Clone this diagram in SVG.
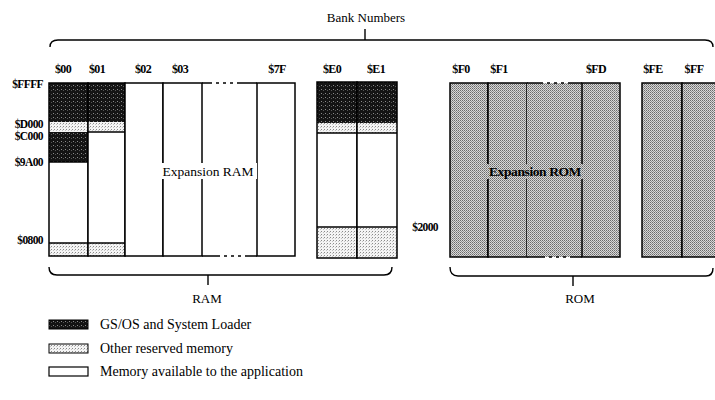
<svg xmlns="http://www.w3.org/2000/svg" width="715" height="400" viewBox="0 0 715 400">
<style>
.box{stroke:#000;stroke-width:1.5}
.ln{stroke:#000;stroke-width:1.3;fill:none}
.br{stroke:#000;stroke-width:1.4;fill:none}
.lab{font-family:"Liberation Serif",serif;font-size:12px;font-weight:bold;fill:#000;text-anchor:middle;letter-spacing:-0.6px}
.addr{font-family:"Liberation Serif",serif;font-size:11.5px;font-weight:bold;fill:#000;text-anchor:end;letter-spacing:-0.6px}
.t{font-family:"Liberation Serif",serif;font-size:13px;fill:#000}
.c{text-anchor:middle}
</style>
<defs>
<pattern id="dark" width="4" height="4" patternUnits="userSpaceOnUse"><rect width="4" height="4" fill="#141414"/><rect x="1" y="1" width="1" height="1" fill="#8a8a8a"/><rect x="3" y="2" width="1" height="1" fill="#555"/></pattern>
<pattern id="light" width="3" height="3" patternUnits="userSpaceOnUse"><rect width="3" height="3" fill="#f4f4f4"/><rect width="1" height="1" fill="#8a8a8a"/><rect x="2" y="1" width="1" height="1" fill="#c4c4c4"/></pattern>
<pattern id="rom" width="2" height="2" patternUnits="userSpaceOnUse"><rect width="2" height="2" fill="#d8d8d8"/><rect width="1" height="1" fill="#6a6a6a"/><rect x="1" y="1" width="1" height="1" fill="#8e8e8e"/></pattern>
</defs>
<rect width="715" height="400" fill="#fff"/>

<g id="connectors">
<path class="br" d="M50,47 Q50,40 58,40 H705 Q713,40 713,47"/>
<line class="br" x1="365" y1="29" x2="365" y2="40"/>
<path class="br" d="M49,267 Q49,275 57,275 H384 Q392,275 392,267"/>
<line class="br" x1="208" y1="275" x2="208" y2="285"/>
<path class="br" d="M450,267 Q450,276 458,276 H706 Q713,276 713,268"/>
<line class="br" x1="573" y1="276" x2="573" y2="286"/>
</g>

<text class="t c" x="366" y="22">Bank Numbers</text>
<text class="t c" x="207" y="303">RAM</text>
<text class="t c" x="580" y="303">ROM</text>

<g id="bank-labels">
<text class="lab" x="63" y="73">$00</text>
<text class="lab" x="97" y="73">$01</text>
<text class="lab" x="143" y="73">$02</text>
<text class="lab" x="180" y="73">$03</text>
<text class="lab" x="277" y="73">$7F</text>
<text class="lab" x="332" y="73">$E0</text>
<text class="lab" x="376" y="73">$E1</text>
<text class="lab" x="461" y="73">$F0</text>
<text class="lab" x="499" y="73">$F1</text>
<text class="lab" x="596" y="73">$FD</text>
<text class="lab" x="653" y="73">$FE</text>
<text class="lab" x="694" y="73">$FF</text>
</g>

<g id="addresses">
<text class="addr" x="43" y="88">$FFFF</text>
<text class="addr" x="43" y="127.5">$D000</text>
<text class="addr" x="43" y="140">$C000</text>
<text class="addr" x="43" y="166">$9A00</text>
<text class="addr" x="43" y="244">$0800</text>
<text class="addr" x="438" y="231">$2000</text>
</g>

<g id="bank-00">
<rect x="49" y="83" width="39" height="39" fill="url(#dark)"/>
<rect x="49" y="122" width="39" height="10" fill="url(#light)"/>
<rect x="49" y="132" width="39" height="30" fill="url(#dark)"/>
<rect x="49" y="162" width="39" height="81" fill="#fff"/>
<rect x="49" y="243" width="39" height="13" fill="url(#light)"/>
<line class="ln" x1="49" y1="162" x2="88" y2="162"/>
<line class="ln" x1="49" y1="243" x2="88" y2="243"/>
<rect class="box" x="49" y="83" width="39" height="173" fill="none"/>
</g>
<g id="bank-01">
<rect x="88" y="83" width="37" height="39" fill="url(#dark)"/>
<rect x="88" y="122" width="37" height="10" fill="url(#light)"/>
<rect x="88" y="132" width="37" height="111" fill="#fff"/>
<rect x="88" y="243" width="37" height="13" fill="url(#light)"/>
<line class="ln" x1="88" y1="132" x2="125" y2="132"/>
<line class="ln" x1="88" y1="243" x2="125" y2="243"/>
<rect class="box" x="88" y="83" width="37" height="173" fill="none"/>
</g>
<g id="bank-02"><rect class="box" x="125" y="83" width="38" height="173" fill="#fff"/></g>
<g id="bank-03"><rect class="box" x="163" y="83" width="39" height="173" fill="#fff"/></g>
<g id="bank-gap-ram">
<line class="box" x1="202" y1="83" x2="257" y2="83" stroke-dasharray="10,4,3,4,3,4,3,4,30"/>
<line class="box" x1="202" y1="256" x2="257" y2="256" stroke-dasharray="18,4,3,4,3,4,3,4,30"/>
</g>
<g id="bank-7F"><rect class="box" x="257" y="83" width="38" height="173" fill="#fff"/></g>
<g id="expansion-ram">
<rect x="161" y="163" width="96" height="16" fill="#fff"/>
<text class="t c" x="208" y="176" style="font-size:13.5px">Expansion RAM</text>
</g>

<g id="bank-E0">
<rect x="317" y="82" width="40" height="41" fill="url(#dark)"/>
<rect x="317" y="123" width="40" height="10" fill="url(#light)"/>
<rect x="317" y="133" width="40" height="94" fill="#fff"/>
<rect x="317" y="227" width="40" height="31" fill="url(#light)"/>
<line class="ln" x1="317" y1="133" x2="357" y2="133"/>
<line class="ln" x1="317" y1="227" x2="357" y2="227"/>
<rect class="box" x="317" y="82" width="40" height="176" fill="none"/>
</g>
<g id="bank-E1">
<rect x="357" y="82" width="40" height="41" fill="url(#dark)"/>
<rect x="357" y="123" width="40" height="10" fill="url(#light)"/>
<rect x="357" y="133" width="40" height="94" fill="#fff"/>
<rect x="357" y="227" width="40" height="31" fill="url(#light)"/>
<line class="ln" x1="357" y1="133" x2="397" y2="133"/>
<line class="ln" x1="357" y1="227" x2="397" y2="227"/>
<rect class="box" x="357" y="82" width="40" height="176" fill="none"/>
</g>

<g id="bank-F0"><rect class="box" x="450" y="83" width="38" height="174" fill="url(#rom)"/></g>
<g id="bank-F1"><rect class="box" x="488" y="83" width="39" height="174" fill="url(#rom)"/></g>
<g id="bank-gap-rom">
<rect x="527" y="83" width="55" height="174" fill="url(#rom)"/>
<line class="box" x1="527" y1="83" x2="582" y2="83" stroke-dasharray="16,4,3,4,3,4,3,4,30"/>
<line class="box" x1="527" y1="257" x2="582" y2="257" stroke-dasharray="18,4,3,4,3,4,3,4,30"/>
</g>
<g id="bank-FD"><rect class="box" x="582" y="83" width="38" height="174" fill="url(#rom)"/></g>
<g id="expansion-rom">
<rect x="486" y="164" width="98" height="15" fill="url(#rom)"/>
<text class="t c" x="535" y="176" style="font-size:13.5px;font-weight:bold;letter-spacing:-0.4px">Expansion ROM</text>
</g>
<g id="bank-FE"><rect class="box" x="642" y="83" width="40" height="174" fill="url(#rom)"/></g>
<g id="bank-FF"><rect class="box" x="682" y="83" width="40" height="174" fill="url(#rom)"/></g>

<g id="legend">
<rect x="49" y="320" width="39" height="9" fill="url(#dark)" stroke="#000" stroke-width="1"/>
<text class="t" x="100" y="329" style="font-size:14px">GS/OS and System Loader</text>
<rect x="49" y="344" width="39" height="9" fill="url(#light)" stroke="#000" stroke-width="1"/>
<text class="t" x="100" y="353" style="font-size:14px">Other reserved memory</text>
<rect x="49" y="367" width="39" height="9" fill="#fff" stroke="#000" stroke-width="1.2"/>
<text class="t" x="100" y="376" style="font-size:14px">Memory available to the application</text>
</g>
</svg>
